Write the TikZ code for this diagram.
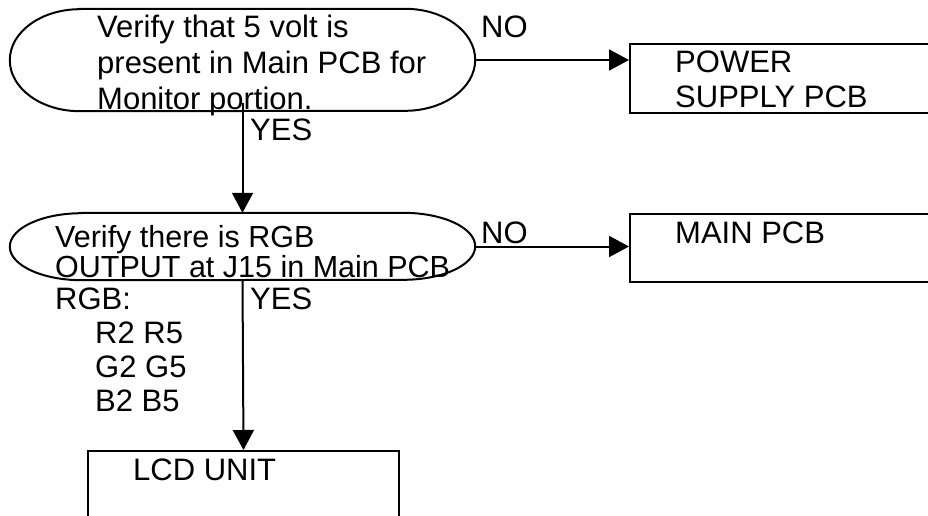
\documentclass[tikz,border=0pt]{standalone}
\usepackage{fontspec}
\setmainfont{Liberation Sans}
\usetikzlibrary{arrows.meta,calc}
\begin{document}
\begin{tikzpicture}[x=1pt,y=1pt,
  txt/.style={inner sep=0pt, anchor=base west, align=left,
    font=\fontsize{31}{35}\selectfont},
  frame/.style={draw=none, inner sep=0pt},
  outline/.style={draw, line width=2pt},
  boxnode/.style={draw, line width=2pt, inner sep=0pt, anchor=north west},
  flow/.style={draw, line width=2pt, -{Triangle[length=20pt,width=21pt]}},
  ]
\useasboundingbox[fill=white] (0,0) rectangle (928,-516);

% decision frames (terminator outlines are drawn around them)
\node[frame, minimum width=465pt, minimum height=102pt] (q1) at (242.5,-60) {};
\node[frame, minimum width=465pt, minimum height=67pt] (q2) at (242.5,-246.5) {};

\draw[outline] ($(q1.north west)+(70,0)$) -- ($(q1.north east)+(-70,0)$)
  arc[start angle=90, end angle=-90, x radius=70, y radius=51]
  -- ($(q1.south west)+(70,0)$)
  arc[start angle=270, end angle=90, x radius=70, y radius=51] -- cycle;
\draw[outline] ($(q2.north west)+(72,0)$) -- ($(q2.north east)+(-72,0)$)
  arc[start angle=90, end angle=-90, x radius=72, y radius=33.5]
  -- ($(q2.south west)+(72,0)$)
  arc[start angle=270, end angle=90, x radius=72, y radius=33.5] -- cycle;

% result boxes
\node[boxnode, minimum width=330pt, minimum height=69pt] (ps) at (629,-43) {};
\node[boxnode, minimum width=330pt, minimum height=68pt] (mp) at (629,-213) {};
\node[boxnode, minimum width=311pt, minimum height=90pt] (lcd) at (87,-450) {};

% texts (a multi-line node sits on the baseline of its last line)
\node[txt, font=\fontsize{31}{36}\selectfont] (q1t) at (97,-110)
  {Verify that 5 volt is\\present in Main PCB for\\Monitor portion.};
\node[txt, font=\fontsize{30.5}{30}\selectfont] (q2t) at (55,-277)
  {Verify there is RGB\\OUTPUT at J15 in Main PCB};
\node[txt] (rgb) at (55,-309) {RGB:};
\node[txt, font=\fontsize{31}{34}\selectfont] (pins) at (95,-411)
  {R2 R5\\G2 G5\\B2 B5};
\node[txt, font=\fontsize{31}{34}\selectfont] (pst) at (675,-107)
  {POWER\\SUPPLY PCB};
\node[txt] (mpt) at (675,-243) {MAIN PCB};
\node[txt] (lcdt) at (133,-480) {LCD UNIT};

% connectors
\draw[flow] ($(q1.south)+(0,8)$) -- (q2.north);
\draw[flow] (q2.south) -- (lcd.north);
\draw[flow] (q1.east) -- (q1.east -| ps.west);
\draw[flow] (q2.east) -- (q2.east -| mp.west);

% branch labels
\node[txt] (yes1) at (250,-140) {YES};
\node[txt] (yes2) at (250,-309) {YES};
\node[txt] (no1) at (481,-38) {NO};
\node[txt] (no2) at (481,-243) {NO};
\end{tikzpicture}
\end{document}
